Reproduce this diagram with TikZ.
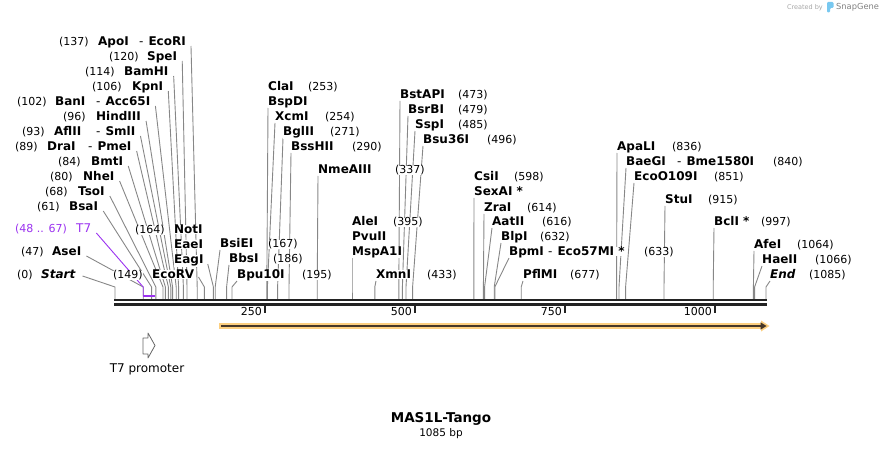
\documentclass[tikz,border=0pt]{standalone}
\usepackage{fontspec}
\setmainfont{DejaVu Sans}
\usetikzlibrary{positioning, backgrounds}

\definecolor{cutgray}{RGB}{135,135,135}
\definecolor{mapdark}{RGB}{35,35,35}
\definecolor{tpurple}{RGB}{155,50,240}
\definecolor{featorange}{RGB}{252,207,128}
\definecolor{featcore}{RGB}{70,55,40}
\definecolor{snapblue}{RGB}{120,200,240}

\begin{document}
\begin{tikzpicture}[x=1pt, y=-1pt,
    enz/.style={font=\bfseries\fontsize{12}{14}\selectfont, anchor=base west, inner sep=0pt, fill=white},
    enzit/.style={enz, font=\bfseries\itshape\fontsize{12}{14}\selectfont},
    num/.style={font=\fontsize{11}{13}\selectfont, anchor=base west, inner sep=0pt, fill=white},
    cut/.style={draw=cutgray, line width=0.9pt},
    seqline/.style={draw=mapdark, line width=2pt},
    tickmark/.style={draw=mapdark, line width=1.8pt},
    ticklabel/.style={font=\fontsize{11}{13}\selectfont, anchor=base east, inner sep=0pt}
]
    \useasboundingbox (0,0) rectangle (884,449);

    % Cut sites on the sequence (0.6 px per bp, start at 115)
    \coordinate (s0) at (115,299);     \coordinate (s47) at (143.2,299);  \coordinate (s61) at (151.6,299);
    \coordinate (s68) at (155.8,299);  \coordinate (s80) at (163,299);    \coordinate (s84) at (165.4,299);
    \coordinate (s89) at (168.4,299);  \coordinate (s93) at (170.8,299);  \coordinate (s96) at (172.6,299);
    \coordinate (s102) at (176.2,299); \coordinate (s106) at (178.6,299); \coordinate (s114) at (183.4,299);
    \coordinate (s120) at (187,299);   \coordinate (s137) at (197.2,299); \coordinate (s149) at (204.4,299);
    \coordinate (s164) at (213.4,299); \coordinate (s167) at (215.2,299); \coordinate (s186) at (226.6,299);
    \coordinate (s195) at (232,299);   \coordinate (s253) at (266.8,299); \coordinate (s254) at (267.4,299);
    \coordinate (s271) at (277.6,299); \coordinate (s290) at (289,299);   \coordinate (s337) at (317.2,299);
    \coordinate (s395) at (352,299);   \coordinate (s433) at (374.8,299); \coordinate (s473) at (398.8,299);
    \coordinate (s479) at (402.4,299); \coordinate (s485) at (406,299);   \coordinate (s496) at (412.6,299);
    \coordinate (s598) at (473.8,299); \coordinate (s614) at (483.4,299); \coordinate (s616) at (484.6,299);
    \coordinate (s632) at (494.2,299); \coordinate (s633) at (494.8,299); \coordinate (s677) at (521.2,299);
    \coordinate (s836) at (616.6,299); \coordinate (s840) at (619,299);   \coordinate (s851) at (625.6,299);
    \coordinate (s915) at (664,299);   \coordinate (s997) at (713.2,299); \coordinate (s1064) at (753.4,299);
    \coordinate (s1066) at (754.6,299); \coordinate (s1085) at (766,299);
    \coordinate (t7s) at (143.2,296);  \coordinate (t7e) at (155.2,296);

    % Labels left of their sites
    \node[num] (n137) at (59,46) {(137)};
    \node[enz] (apoI) at (98,46) {ApoI};
    \node[enz] (ecoRI) at (139,46) {\mdseries -\hspace{5pt}\bfseries EcoRI};
    \node[num] (n120) at (109,61) {(120)};
    \node[enz] (speI) at (147,61) {SpeI};
    \node[num] (n114) at (85,76) {(114)};
    \node[enz] (bamHI) at (124,76) {BamHI};
    \node[num] (n106) at (92,91) {(106)};
    \node[enz] (kpnI) at (132,91) {KpnI};
    \node[num] (n102) at (17,106) {(102)};
    \node[enz] (banI) at (55,106) {BanI};
    \node[enz] (acc65I) at (96,106) {\mdseries -\hspace{5pt}\bfseries Acc65I};
    \node[num] (n96) at (63,121) {(96)};
    \node[enz] (hindIII) at (96,121) {HindIII};
    \node[num] (n93) at (22,136) {(93)};
    \node[enz] (aflII) at (54,136) {AflII};
    \node[enz] (smlI) at (96,136) {\mdseries -\hspace{5pt}\bfseries SmlI};
    \node[num] (n89) at (15,151) {(89)};
    \node[enz] (draI) at (47,151) {DraI};
    \node[enz] (pmeI) at (88,151) {\mdseries -\hspace{5pt}\bfseries PmeI};
    \node[num] (n84) at (58,166) {(84)};
    \node[enz] (bmtI) at (91,166) {BmtI};
    \node[num] (n80) at (50,181) {(80)};
    \node[enz] (nheI) at (83,181) {NheI};
    \node[num] (n68) at (45,196) {(68)};
    \node[enz] (tsoI) at (78,196) {TsoI};
    \node[num] (n61) at (37,211) {(61)};
    \node[enz] (bsaI) at (69,211) {BsaI};
    \node[num, text=tpurple] (n48) at (15,233) {(48 .. 67)};
    \node[num, text=tpurple, font=\fontsize{12}{14}\selectfont] (t7) at (76,233) {T7};
    \node[num] (n47) at (21,256) {(47)};
    \node[enz] (aseI) at (52,256) {AseI};
    \node[num] (n0) at (17,279) {(0)};
    \node[enzit] (start) at (41,279) {Start};
    \node[num] (n149) at (113,279) {(149)};
    \node[enz] (ecoRV) at (152,279) {EcoRV};
    \node[num] (n164) at (135,234) {(164)};
    \node[enz] (notI) at (174,234) {NotI};
    \node[enz] (eaeI) at (174,249) {EaeI};
    \node[enz] (eagI) at (174,264) {EagI};

    % Labels right of their sites
    \node[enz] (claI) at (268,91) {ClaI};
    \node[num] (n253) at (308,91) {(253)};
    \node[enz] (bspDI) at (268,106) {BspDI};
    \node[enz] (xcmI) at (275,121) {XcmI};
    \node[num] (n254) at (325,121) {(254)};
    \node[enz] (bglII) at (283,136) {BglII};
    \node[num] (n271) at (330,136) {(271)};
    \node[enz] (bssHII) at (291,151) {BssHII};
    \node[num] (n290) at (352,151) {(290)};
    \node[enz] (nmeAIII) at (318,174) {NmeAIII};
    \node[num] (n337) at (395,174) {(337)};
    \node[enz] (bsiEI) at (220,248) {BsiEI};
    \node[num] (n167) at (268,248) {(167)};
    \node[enz] (bbsI) at (229,263) {BbsI};
    \node[num] (n186) at (273,263) {(186)};
    \node[enz] (bpu10I) at (237,279) {Bpu10I};
    \node[num] (n195) at (302,279) {(195)};
    \node[enz] (aleI) at (352,226) {AleI};
    \node[num] (n395) at (393,226) {(395)};
    \node[enz] (pvuII) at (352,241) {PvuII};
    \node[enz] (mspA1I) at (352,256) {MspA1I};
    \node[enz] (xmnI) at (376,279) {XmnI};
    \node[num] (n433) at (427,279) {(433)};
    \node[enz] (bstAPI) at (400,99) {BstAPI};
    \node[num] (n473) at (458,99) {(473)};
    \node[enz] (bsrBI) at (408,114) {BsrBI};
    \node[num] (n479) at (458,114) {(479)};
    \node[enz] (sspI) at (415,129) {SspI};
    \node[num] (n485) at (458,129) {(485)};
    \node[enz] (bsu36I) at (423,144) {Bsu36I};
    \node[num] (n496) at (487,144) {(496)};
    \node[enz] (csiI) at (474,181) {CsiI};
    \node[num] (n598) at (514,181) {(598)};
    \node[enz] (sexAI) at (474,196) {SexAI *};
    \node[enz] (zraI) at (484,212) {ZraI};
    \node[num] (n614) at (527,212) {(614)};
    \node[enz] (aatII) at (492,226) {AatII};
    \node[num] (n616) at (542,226) {(616)};
    \node[enz] (blpI) at (501,241) {BlpI};
    \node[num] (n632) at (540,241) {(632)};
    \node[enz] (bpmI) at (509,256) {BpmI};
    \node[enz] (eco57MI) at (548,256) {\mdseries -\hspace{5pt}\bfseries Eco57MI *};
    \node[num] (n633) at (644,256) {(633)};
    \node[enz] (pflMI) at (523,279) {PflMI};
    \node[num] (n677) at (570,279) {(677)};
    \node[enz] (apaLI) at (617,151) {ApaLI};
    \node[num] (n836) at (672,151) {(836)};
    \node[enz] (baeGI) at (626,166) {BaeGI};
    \node[enz] (bme1580I) at (677,166) {\mdseries -\hspace{5pt}\bfseries Bme1580I};
    \node[num] (n840) at (773,166) {(840)};
    \node[enz] (ecoO109I) at (634,181) {EcoO109I};
    \node[num] (n851) at (714,181) {(851)};
    \node[enz] (stuI) at (665,204) {StuI};
    \node[num] (n915) at (708,204) {(915)};
    \node[enz] (bclI) at (714,226) {BclI *};
    \node[num] (n997) at (761,226) {(997)};
    \node[enz] (afeI) at (754,249) {AfeI};
    \node[num] (n1064) at (797,249) {(1064)};
    \node[enz] (haeII) at (762,264) {HaeII};
    \node[num] (n1066) at (815,264) {(1066)};
    \node[enzit] (endL) at (770,279) {End};
    \node[num] (n1085) at (809,279) {(1085)};

    % Leader lines, kept behind the labels
    \begin{scope}[on background layer]
    \draw[cut] ([xshift=5pt]ecoRI.base east) -- ([yshift=12pt]s137) -- (s137);
    \draw[cut] ([xshift=5pt]speI.base east) -- ([yshift=12pt]s120) -- (s120);
    \draw[cut] ([xshift=5pt]bamHI.base east) -- ([yshift=12pt]s114) -- (s114);
    \draw[cut] ([xshift=5pt]kpnI.base east) -- ([yshift=12pt]s106) -- (s106);
    \draw[cut] ([xshift=5pt]acc65I.base east) -- ([yshift=12pt]s102) -- (s102);
    \draw[cut] ([xshift=5pt]hindIII.base east) -- ([yshift=12pt]s96) -- (s96);
    \draw[cut] ([xshift=5pt]smlI.base east) -- ([yshift=12pt]s93) -- (s93);
    \draw[cut] ([xshift=5pt]pmeI.base east) -- ([yshift=12pt]s89) -- (s89);
    \draw[cut] ([xshift=5pt]bmtI.base east) -- ([yshift=12pt]s84) -- (s84);
    \draw[cut] ([xshift=5pt]nheI.base east) -- ([yshift=12pt]s80) -- (s80);
    \draw[cut] ([xshift=5pt]tsoI.base east) -- ([yshift=12pt]s68) -- (s68);
    \draw[cut] ([xshift=5pt]bsaI.base east) -- ([yshift=12pt]s61) -- (s61);
    \draw[cut] ([xshift=5pt]aseI.base east) -- ([yshift=12pt]s47) -- (s47);
    \draw[cut] ([xshift=7pt,yshift=3pt]start.base east) -- ([yshift=12pt]s0) -- (s0);
    \draw[cut] ([xshift=4pt,yshift=2pt]ecoRV.base east) -- ([yshift=12pt]s149) -- (s149);
    \draw[cut] ([xshift=4pt]eagI.base east) -- ([yshift=12pt]s164) -- (s164);
    \draw[tpurple, line width=0.9pt] ([xshift=5pt]t7.base east) -- ([yshift=9pt]t7s) -- (t7s);
    \draw[cut] ([yshift=-2pt]bspDI.base west) -- ([yshift=12pt]s253) -- (s253);
    \draw[cut] ([yshift=-2pt]xcmI.base west) -- ([yshift=12pt]s254) -- (s254);
    \draw[cut] ([yshift=-2pt]bglII.base west) -- ([yshift=12pt]s271) -- (s271);
    \draw[cut] ([yshift=-2pt]bssHII.base west) -- ([yshift=12pt]s290) -- (s290);
    \draw[cut] ([yshift=-2pt]nmeAIII.base west) -- ([yshift=12pt]s337) -- (s337);
    \draw[cut] ([yshift=-2pt]bsiEI.base west) -- ([yshift=12pt]s167) -- (s167);
    \draw[cut] ([yshift=-2pt]bbsI.base west) -- ([yshift=12pt]s186) -- (s186);
    \draw[cut] ([yshift=-2pt]bpu10I.base west) -- ([yshift=12pt]s195) -- (s195);
    \draw[cut] ([yshift=-2pt]mspA1I.base west) -- ([yshift=12pt]s395) -- (s395);
    \draw[cut] ([yshift=-2pt]xmnI.base west) -- ([yshift=12pt]s433) -- (s433);
    \draw[cut] ([yshift=-2pt]bstAPI.base west) -- ([yshift=12pt]s473) -- (s473);
    \draw[cut] ([yshift=-2pt]bsrBI.base west) -- ([yshift=12pt]s479) -- (s479);
    \draw[cut] ([yshift=-2pt]sspI.base west) -- ([yshift=12pt]s485) -- (s485);
    \draw[cut] ([yshift=-2pt]bsu36I.base west) -- ([yshift=12pt]s496) -- (s496);
    \draw[cut] ([yshift=-2pt]sexAI.base west) -- ([yshift=12pt]s598) -- (s598);
    \draw[cut] ([yshift=-2pt]zraI.base west) -- ([yshift=12pt]s614) -- (s614);
    \draw[cut] ([yshift=-2pt]aatII.base west) -- ([yshift=12pt]s616) -- (s616);
    \draw[cut] ([yshift=-2pt]blpI.base west) -- ([yshift=12pt]s632) -- (s632);
    \draw[cut] ([yshift=-2pt]bpmI.base west) -- ([yshift=12pt]s633) -- (s633);
    \draw[cut] ([yshift=-2pt]pflMI.base west) -- ([yshift=12pt]s677) -- (s677);
    \draw[cut] ([yshift=-2pt]apaLI.base west) -- ([yshift=12pt]s836) -- (s836);
    \draw[cut] ([yshift=-2pt]baeGI.base west) -- ([yshift=12pt]s840) -- (s840);
    \draw[cut] ([yshift=-2pt]ecoO109I.base west) -- ([yshift=12pt]s851) -- (s851);
    \draw[cut] ([yshift=-2pt]stuI.base west) -- ([yshift=12pt]s915) -- (s915);
    \draw[cut] ([yshift=-2pt]bclI.base west) -- ([yshift=12pt]s997) -- (s997);
    \draw[cut] ([yshift=-2pt]afeI.base west) -- ([yshift=12pt]s1064) -- (s1064);
    \draw[cut] ([yshift=-2pt]haeII.base west) -- ([yshift=12pt]s1066) -- (s1066);
    \draw[cut] ([yshift=-2pt]endL.base west) -- ([yshift=12pt]s1085) -- (s1085);
    \end{scope}

    % T7 feature on the map
    \draw[tpurple, line width=2pt] (t7s) -- (t7e);

    % Sequence line and ruler
    \draw[seqline] (114,300) -- (767,300);
    \draw[seqline, line width=2.6pt] (114,304.3) -- (767,304.3);
    \draw[tickmark] (265,305) -- (265,313);
    \draw[tickmark] (415,305) -- (415,313);
    \draw[tickmark] (565,305) -- (565,313);
    \draw[tickmark] (715,305) -- (715,313);
    \node[ticklabel] (l250) at (262,316) {250};
    \node[ticklabel] (l500) at (412,316) {500};
    \node[ticklabel] (l750) at (562,316) {750};
    \node[ticklabel] (l1000) at (712,316) {1000};

    % ORF arrow
    \fill[featorange] (219,323.2) -- (761,323.2) -- (761,320.5) -- (769.5,326) -- (761,331.5) -- (761,328.8) -- (219,328.8) -- cycle;
    \draw[featcore, line width=1.4pt] (221,326) -- (762,326);
    \fill[featcore] (760.5,322.3) -- (766.5,326) -- (760.5,329.7) -- cycle;

    % T7 promoter glyph
    \draw[draw=black!60, fill=white, line width=0.8pt, line join=round] (143,338) -- (148,338) -- (148,333) -- (155,345.5) -- (148,358) -- (148,354) -- (143,354) -- cycle;
    \node[num, anchor=base, font=\fontsize{12}{14}\selectfont] (t7prom) at (147,372) {T7 promoter};

    % Title
    \node[anchor=base, inner sep=0pt, font=\bfseries\fontsize{13.5}{16}\selectfont] (title) at (441,422) {MAS1L-Tango};
    \node[below=3pt of title, inner sep=0pt, font=\fontsize{10.5}{12}\selectfont] (bplen) {1085 bp};

    % Watermark
    \node[anchor=base east, inner sep=0pt, text=black!35, font=\fontsize{6.5}{8}\selectfont] (created) at (823,10) {Created by};
    \fill[snapblue, rounded corners=1.2pt] (827,2) -- (833.5,2) -- (833.5,8) -- (830,8) -- (830,12.5) -- (827,12.5) -- cycle;
    \node[anchor=base west, inner sep=0pt, text=black!50, font=\fontsize{8.3}{10}\selectfont] (snapgene) at (836,10) {SnapGene};
\end{tikzpicture}
\end{document}
